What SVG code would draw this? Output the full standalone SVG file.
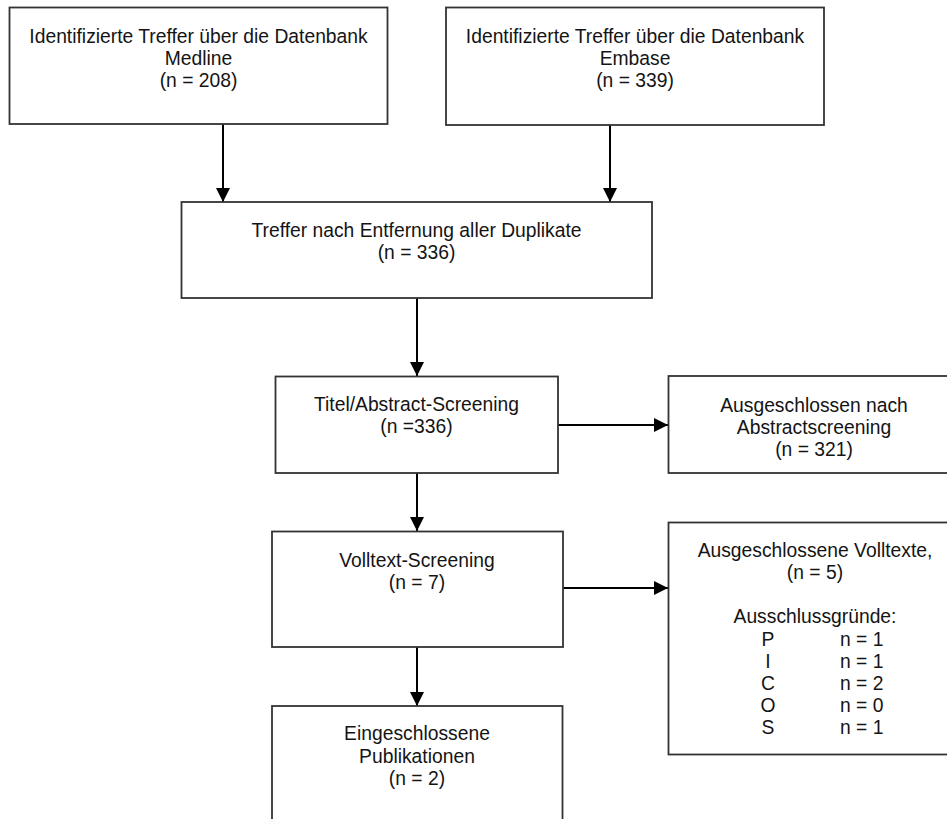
<svg xmlns="http://www.w3.org/2000/svg" width="947" height="819" viewBox="0 0 947 819">
<style>
.box{fill:#fff;stroke:#333;stroke-width:1.8}
.t{font-family:"Liberation Sans",Arial,sans-serif;font-size:19.3px;fill:#141414;text-anchor:middle}
.ts{font-family:"Liberation Sans",Arial,sans-serif;font-size:19.3px;fill:#141414;text-anchor:start}
.c{stroke:#000;stroke-width:2;fill:none;marker-end:url(#ah)}
</style>
<defs>
<marker id="ah" markerUnits="userSpaceOnUse" markerWidth="14" markerHeight="14" viewBox="0 0 12 12" refX="12" refY="6" orient="auto">
<path d="M0,0 L12,6 L0,12 Z" fill="#000"/>
</marker>
</defs>
<rect width="947" height="819" fill="#fff"/>
<g id="connectors">
<line class="c" x1="223" y1="124" x2="223" y2="202"/>
<line class="c" x1="610" y1="125" x2="610" y2="202"/>
<line class="c" x1="417" y1="298" x2="417" y2="376"/>
<line class="c" x1="558" y1="425" x2="668" y2="425"/>
<line class="c" x1="417" y1="473" x2="417" y2="531"/>
<line class="c" x1="563" y1="588" x2="668" y2="588"/>
<line class="c" x1="417" y1="647" x2="417" y2="706"/>
</g>
<g id="medline">
<rect class="box" x="9.5" y="7.5" width="378" height="116.5"/>
<text class="t" x="198.5" y="43">Identifizierte Treffer über die Datenbank</text>
<text class="t" x="198.5" y="65">Medline</text>
<text class="t" x="198.5" y="87">(n = 208)</text>
</g>
<g id="embase">
<rect class="box" x="446" y="7.5" width="378" height="117.5"/>
<text class="t" x="635" y="43">Identifizierte Treffer über die Datenbank</text>
<text class="t" x="635" y="65">Embase</text>
<text class="t" x="635" y="87">(n = 339)</text>
</g>
<g id="duplikate">
<rect class="box" x="181.5" y="202" width="470.5" height="96"/>
<text class="t" x="416.5" y="236.5">Treffer nach Entfernung aller Duplikate</text>
<text class="t" x="416.5" y="258.5">(n = 336)</text>
</g>
<g id="titel">
<rect class="box" x="275.5" y="376.5" width="282.5" height="96.5"/>
<text class="t" x="416.5" y="410.5">Titel/Abstract-Screening</text>
<text class="t" x="416.5" y="432.5">(n =336)</text>
</g>
<g id="ausgeschlossen-abstract">
<rect class="box" x="668.5" y="376" width="292" height="97"/>
<text class="t" x="814" y="411.5">Ausgeschlossen nach</text>
<text class="t" x="814" y="433.5">Abstractscreening</text>
<text class="t" x="814" y="455.5">(n = 321)</text>
</g>
<g id="volltext">
<rect class="box" x="272" y="531.5" width="291" height="115.5"/>
<text class="t" x="417" y="566.5">Volltext-Screening</text>
<text class="t" x="417" y="588.5">(n = 7)</text>
</g>
<g id="ausgeschlossen-volltext">
<rect class="box" x="668.5" y="522.5" width="292" height="232"/>
<text class="t" x="815" y="556.5">Ausgeschlossene Volltexte,</text>
<text class="t" x="815" y="579">(n = 5)</text>
<text class="t" x="815" y="623">Ausschlussgründe:</text>
<text class="t" x="768" y="645.5">P</text>
<text class="ts" x="840" y="645.5">n = 1</text>
<text class="t" x="768" y="667.5">I</text>
<text class="ts" x="840" y="667.5">n = 1</text>
<text class="t" x="768" y="690">C</text>
<text class="ts" x="840" y="690">n = 2</text>
<text class="t" x="768" y="712">O</text>
<text class="ts" x="840" y="712">n = 0</text>
<text class="t" x="768" y="734">S</text>
<text class="ts" x="840" y="734">n = 1</text>
</g>
<g id="eingeschlossen">
<rect class="box" x="272" y="706" width="290.5" height="130"/>
<text class="t" x="417" y="740">Eingeschlossene</text>
<text class="t" x="417" y="762.5">Publikationen</text>
<text class="t" x="417" y="785">(n = 2)</text>
</g>
</svg>
